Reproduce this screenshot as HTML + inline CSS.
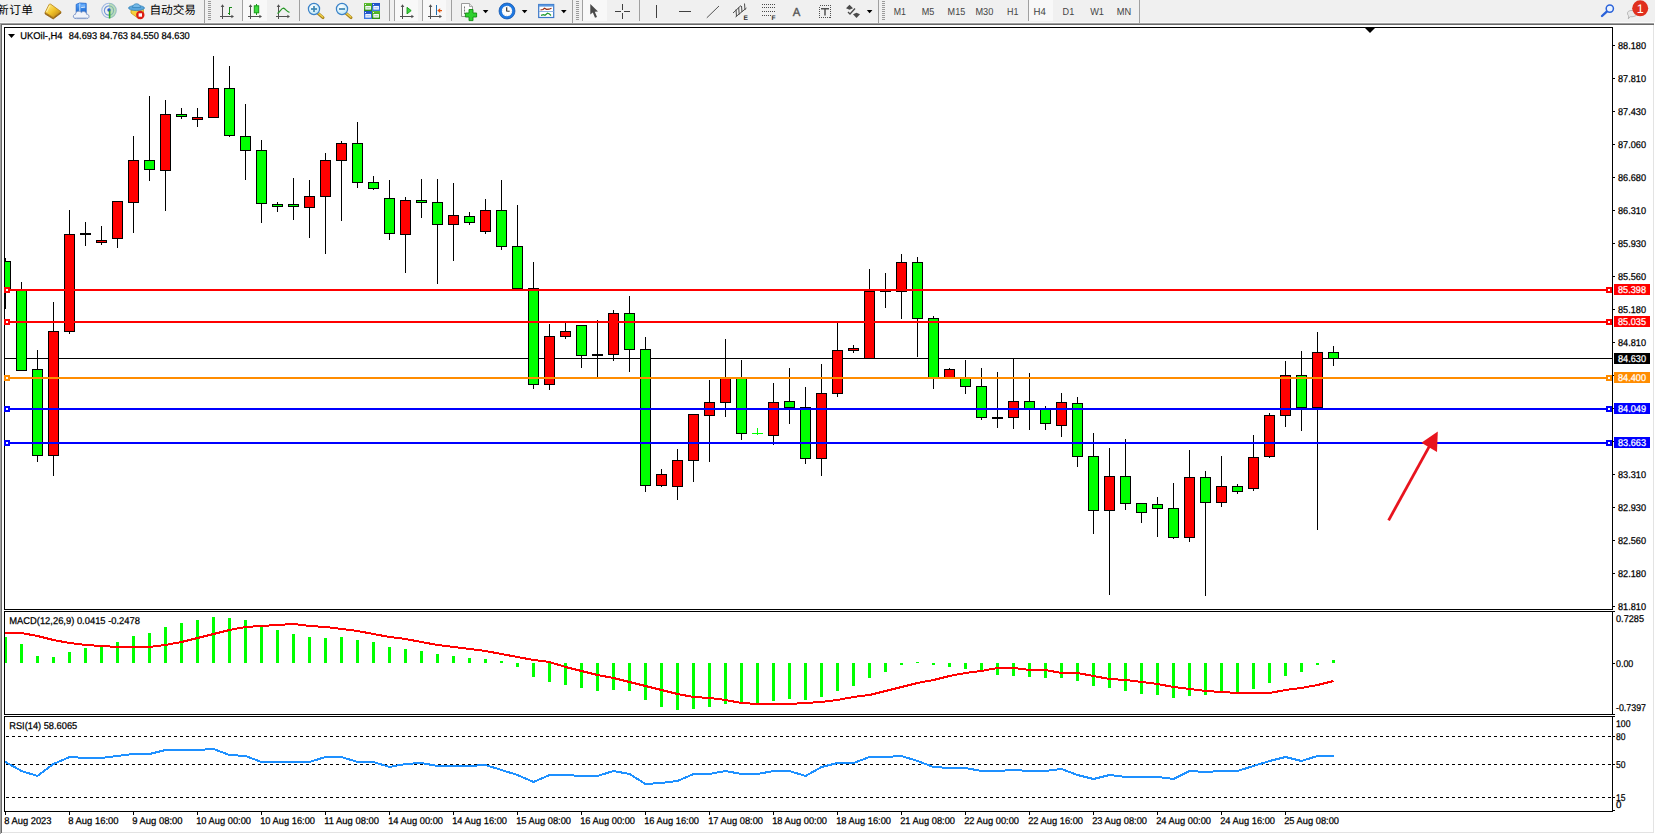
<!DOCTYPE html>
<html><head><meta charset="utf-8"><title>UKOil H4</title>
<style>html,body{margin:0;padding:0;background:#fff}body{width:1655px;height:834px;overflow:hidden;position:relative}</style>
</head><body>
<svg width="1655" height="834" viewBox="0 0 1655 834" font-family="Liberation Sans, sans-serif" text-rendering="geometricPrecision" style="position:absolute;left:0;top:0">
<rect x="0" y="0" width="1655" height="834" fill="#ffffff"/>
<g shape-rendering="crispEdges">
<rect x="0" y="0" width="1655" height="23" fill="#f0f0f0"/>
<rect x="0" y="22" width="1655" height="1" fill="#fafafa"/>
<rect x="0" y="23" width="1655" height="1" fill="#a0a0a0"/>
<rect x="1" y="24" width="1654" height="1" fill="#696969"/>
<rect x="0" y="24" width="1" height="810" fill="#a0a0a0"/>
<rect x="1" y="25" width="1" height="808" fill="#696969"/>
<rect x="1653" y="25" width="1" height="808" fill="#e3e3e3"/>
<rect x="2" y="832" width="1652" height="1" fill="#e3e3e3"/>
<rect x="1654" y="23" width="1" height="811" fill="#ffffff"/>
<rect x="0" y="833" width="1655" height="1" fill="#ffffff"/>
<rect x="204" y="0" width="1" height="23" fill="#a0a0a0"/>
<rect x="299" y="0" width="1" height="21" fill="#a0a0a0"/>
<rect x="389" y="0" width="1" height="21" fill="#a0a0a0"/>
<rect x="451" y="0" width="1" height="21" fill="#a0a0a0"/>
<rect x="572" y="0" width="1" height="23" fill="#a0a0a0"/>
<rect x="639" y="0" width="1" height="21" fill="#a0a0a0"/>
<rect x="878" y="0" width="1" height="23" fill="#a0a0a0"/>
<rect x="1139" y="0" width="1" height="23" fill="#a0a0a0"/>
<rect x="208" y="1" width="3" height="1" fill="#9a9a9a"/>
<rect x="208" y="3" width="3" height="1" fill="#9a9a9a"/>
<rect x="208" y="5" width="3" height="1" fill="#9a9a9a"/>
<rect x="208" y="7" width="3" height="1" fill="#9a9a9a"/>
<rect x="208" y="9" width="3" height="1" fill="#9a9a9a"/>
<rect x="208" y="11" width="3" height="1" fill="#9a9a9a"/>
<rect x="208" y="13" width="3" height="1" fill="#9a9a9a"/>
<rect x="208" y="15" width="3" height="1" fill="#9a9a9a"/>
<rect x="208" y="17" width="3" height="1" fill="#9a9a9a"/>
<rect x="208" y="19" width="3" height="1" fill="#9a9a9a"/>
<rect x="576" y="1" width="3" height="1" fill="#9a9a9a"/>
<rect x="576" y="3" width="3" height="1" fill="#9a9a9a"/>
<rect x="576" y="5" width="3" height="1" fill="#9a9a9a"/>
<rect x="576" y="7" width="3" height="1" fill="#9a9a9a"/>
<rect x="576" y="9" width="3" height="1" fill="#9a9a9a"/>
<rect x="576" y="11" width="3" height="1" fill="#9a9a9a"/>
<rect x="576" y="13" width="3" height="1" fill="#9a9a9a"/>
<rect x="576" y="15" width="3" height="1" fill="#9a9a9a"/>
<rect x="576" y="17" width="3" height="1" fill="#9a9a9a"/>
<rect x="576" y="19" width="3" height="1" fill="#9a9a9a"/>
<rect x="882" y="1" width="3" height="1" fill="#9a9a9a"/>
<rect x="882" y="3" width="3" height="1" fill="#9a9a9a"/>
<rect x="882" y="5" width="3" height="1" fill="#9a9a9a"/>
<rect x="882" y="7" width="3" height="1" fill="#9a9a9a"/>
<rect x="882" y="9" width="3" height="1" fill="#9a9a9a"/>
<rect x="882" y="11" width="3" height="1" fill="#9a9a9a"/>
<rect x="882" y="13" width="3" height="1" fill="#9a9a9a"/>
<rect x="882" y="15" width="3" height="1" fill="#9a9a9a"/>
<rect x="882" y="17" width="3" height="1" fill="#9a9a9a"/>
<rect x="882" y="19" width="3" height="1" fill="#9a9a9a"/>
<rect x="243" y="0" width="24" height="21" fill="#f8f8f8"/>
<rect x="242" y="0" width="1" height="21" fill="#a0a0a0"/>
<rect x="395" y="0" width="23" height="21" fill="#f8f8f8"/>
<rect x="394" y="0" width="1" height="21" fill="#a0a0a0"/>
<rect x="423" y="0" width="23" height="21" fill="#f8f8f8"/>
<rect x="422" y="0" width="1" height="21" fill="#a0a0a0"/>
<rect x="583" y="0" width="24" height="21" fill="#f8f8f8"/>
<rect x="582" y="0" width="1" height="21" fill="#a0a0a0"/>
<rect x="1029" y="0" width="24" height="21" fill="#f8f8f8"/>
<rect x="1028" y="0" width="1" height="21" fill="#a0a0a0"/>
</g>
<g font-family="Liberation Sans, Noto Sans CJK SC, sans-serif" font-size="11.7" fill="#000">
<text x="-3" y="14.2" textLength="36">新订单</text>
<text x="149.5" y="14.2" textLength="46.5">自动交易</text>
</g>
<defs><linearGradient id="gd" x1="0" y1="0" x2="1" y2="1"><stop offset="0" stop-color="#fff3a0"/><stop offset=".5" stop-color="#f2c42a"/><stop offset="1" stop-color="#b57a10"/></linearGradient><linearGradient id="bl" x1="0" y1="0" x2="0" y2="1"><stop offset="0" stop-color="#5aa8ff"/><stop offset="1" stop-color="#1560c8"/></linearGradient><radialGradient id="lens" cx=".4" cy=".35" r=".7"><stop offset="0" stop-color="#ffffff"/><stop offset="1" stop-color="#b8e4f5"/></radialGradient><linearGradient id="gn" x1="0" y1="0" x2="0" y2="1"><stop offset="0" stop-color="#5fbf2f"/><stop offset="1" stop-color="#2e8f12"/></linearGradient><linearGradient id="bu" x1="0" y1="0" x2="0" y2="1"><stop offset="0" stop-color="#1d4fc4"/><stop offset="1" stop-color="#3f7be8"/></linearGradient></defs>
<g><path d="M45.1 12.4 L53.2 17.4 L60.9 11.6 L60.9 13.2 L53.2 19 L45.1 14 Z" fill="#a06a12" stroke="#8a5a0c" stroke-width=".7" stroke-linejoin="round"/><path d="M49 4.6 C49.4 3.9 50.3 3.9 50.9 4.3 L60.9 11.6 L53.2 17.4 L45.1 12.4 Z" fill="url(#gd)" stroke="#b8841a" stroke-width=".8" stroke-linejoin="round"/><path d="M49.6 5.8 L46.6 12" stroke="#fff6b8" stroke-width="1" fill="none" opacity=".8"/></g>
<g><path d="M76.2 4.4 L79.6 3 L86.2 3.4 L86.2 13.5 L79.6 14 L76.2 12.4 Z" fill="url(#bl)" stroke="#1b62c9" stroke-width=".8"/><path d="M79.8 3.4 L79.8 13.6" stroke="#bfe0ff" stroke-width="1.1"/><path d="M81.2 7.4 L85.2 7" stroke="#e8f3ff" stroke-width="1.1"/><path d="M81.2 5.4 L85.2 5.1" stroke="#8cc4ff" stroke-width=".8"/><path d="M76.3 18.6 C72.6 18.8 72.4 14.4 75.6 14.2 C75.4 11.2 79.6 10.2 81.2 12.4 C83.2 10.6 86.6 11.8 86.4 14.2 C89.8 13.8 90 18.8 86.6 18.6 Z" fill="#f1f4fa" stroke="#7f98c8" stroke-width="1"/><path d="M75.4 17.6 H87.4" stroke="#c3d0e6" stroke-width="1" fill="none"/></g>
<g fill="none"><circle cx="109" cy="10.5" r="7.2" stroke="#9fb8e0" stroke-width="1.1"/><circle cx="109" cy="10.5" r="4.6" stroke="#6f96d8" stroke-width="1.2"/><path d="M109 10.5 L109 18.2 A7.6 7.6 0 0 0 116.5 10.5 A7.6 7.6 0 0 0 109 3" fill="#8fce8f" fill-opacity=".55" stroke="none"/><circle cx="109" cy="10" r="1.7" fill="#2a5bd0"/><path d="M109.6 10.5 L109.6 18.5" stroke="#2fa82f" stroke-width="1.6"/></g>
<g><path d="M131 10 L143.5 9.5 L143.5 14 L139 19 L131 13 Z" fill="#f7d23c" stroke="#c99a16" stroke-width=".8"/><ellipse cx="136.5" cy="8" rx="8" ry="2.6" fill="#5aa6dc" stroke="#2f7fb8" stroke-width=".7"/><path d="M132.5 7.5 C132.5 2.5 140.5 2.5 140.5 7.5 Z" fill="#74b8e6" stroke="#2f7fb8" stroke-width=".7"/><circle cx="140.3" cy="15" r="4.2" fill="#dc1e14"/><rect x="138.6" y="13.3" width="3.4" height="3.4" fill="#fff"/></g>
<g stroke="#505050" stroke-width="1" fill="none" shape-rendering="crispEdges"><path d="M222.5 5 V19"/><path d="M220 16.5 H233"/></g><g fill="#505050"><path d="M222.5 4.2 L224.3 7 L220.7 7 Z"/><path d="M234 16.5 L231.4 14.8 L231.4 18.2 Z"/></g>
<path d="M229.5 6.5 V14.5 M229.5 7.5 H231.5 M227.5 13.5 H229.5" stroke="#1a8a1a" stroke-width="1.3" fill="none" shape-rendering="crispEdges"/>
<g stroke="#505050" stroke-width="1" fill="none" shape-rendering="crispEdges"><path d="M250.5 5 V19"/><path d="M248 16.5 H261"/></g><g fill="#505050"><path d="M250.5 4.2 L252.3 7 L248.7 7 Z"/><path d="M262 16.5 L259.4 14.8 L259.4 18.2 Z"/></g>
<path d="M256.5 3.5 V15" stroke="#1a9a1a" stroke-width="1" shape-rendering="crispEdges"/><rect x="254.3" y="5.8" width="4.4" height="7" fill="#3fdc3f" stroke="#1a9a1a" stroke-width="1"/>
<g stroke="#505050" stroke-width="1" fill="none" shape-rendering="crispEdges"><path d="M278.5 5 V19"/><path d="M276 16.5 H289"/></g><g fill="#505050"><path d="M278.5 4.2 L280.3 7 L276.7 7 Z"/><path d="M290 16.5 L287.4 14.8 L287.4 18.2 Z"/></g>
<path d="M277.5 13.5 C280 12 281.5 8 283.5 8.2 C285.5 8.6 286.5 12 289.5 12.3" stroke="#2a9a2a" stroke-width="1.2" fill="none"/>
<path d="M317.8 13.2 L323 17.6" stroke="#a8821a" stroke-width="3" stroke-linecap="round"/><path d="M318 13 L322.8 17" stroke="#f0d24a" stroke-width="1.4" stroke-linecap="round"/>
<circle cx="314" cy="9" r="5.6" fill="url(#lens)" stroke="#3b82c8" stroke-width="1.2"/>
<path d="M311 9 H317" stroke="#3d86b4" stroke-width="1.7"/>
<path d="M314 6 V12" stroke="#3d86b4" stroke-width="1.7"/>
<path d="M345.8 13.2 L351 17.6" stroke="#a8821a" stroke-width="3" stroke-linecap="round"/><path d="M346 13 L350.8 17" stroke="#f0d24a" stroke-width="1.4" stroke-linecap="round"/>
<circle cx="342" cy="9" r="5.6" fill="url(#lens)" stroke="#3b82c8" stroke-width="1.2"/>
<path d="M339 9 H345" stroke="#3d86b4" stroke-width="1.7"/>
<rect x="364" y="3" width="8" height="8" fill="url(#gn)"/><rect x="365.3" y="6" width="5.6" height="3.6" fill="#f4f8ff"/><rect x="366.3" y="7.3" width="3.6" height="1" fill="#9fd48a"/><rect x="365" y="4" width="1" height="1" fill="#e8f0ff"/>
<rect x="372" y="3" width="8" height="8" fill="url(#bu)"/><rect x="373.3" y="6" width="5.6" height="3.6" fill="#f4f8ff"/><rect x="374.3" y="7.3" width="3.6" height="1" fill="#9bb8f0"/><rect x="373" y="4" width="1" height="1" fill="#e8f0ff"/>
<rect x="364" y="11" width="8" height="8" fill="url(#bu)"/><rect x="365.3" y="14" width="5.6" height="3.6" fill="#f4f8ff"/><rect x="366.3" y="15.3" width="3.6" height="1" fill="#9bb8f0"/><rect x="365" y="12" width="1" height="1" fill="#e8f0ff"/>
<rect x="372" y="11" width="8" height="8" fill="url(#gn)"/><rect x="373.3" y="14" width="5.6" height="3.6" fill="#f4f8ff"/><rect x="374.3" y="15.3" width="3.6" height="1" fill="#9fd48a"/><rect x="373" y="12" width="1" height="1" fill="#e8f0ff"/>
<g stroke="#505050" stroke-width="1" fill="none" shape-rendering="crispEdges"><path d="M402.5 5 V19"/><path d="M400 16.5 H413"/></g><g fill="#505050"><path d="M402.5 4.2 L404.3 7 L400.7 7 Z"/><path d="M414 16.5 L411.4 14.8 L411.4 18.2 Z"/></g>
<path d="M407 7.3 L411.2 10.6 L407 13.9 Z" fill="#3fd63f" stroke="#1a9a1a" stroke-width=".9"/>
<g stroke="#505050" stroke-width="1" fill="none" shape-rendering="crispEdges"><path d="M430.5 5 V19"/><path d="M428 16.5 H441"/></g><g fill="#505050"><path d="M430.5 4.2 L432.3 7 L428.7 7 Z"/><path d="M442 16.5 L439.4 14.8 L439.4 18.2 Z"/></g>
<path d="M436.5 5 V15" stroke="#1f6fb0" stroke-width="1.2" shape-rendering="crispEdges"/><path d="M437.3 10.6 L440.2 8.3 L440.2 10 L442 10 L442 11.2 L440.2 11.2 L440.2 12.9 Z" fill="#e2560f"/>
<path d="M461.5 3.5 H469.5 L472.5 6.5 V16.5 H461.5 Z" fill="#fbfbfb" stroke="#9a9a9a" stroke-width="1"/><path d="M469.5 3.5 V6.5 H472.5" fill="#e6e6e6" stroke="#9a9a9a" stroke-width=".8"/><path d="M464.5 6.5 V14" stroke="#777" stroke-width="1" stroke-dasharray="2 1"/>
<path d="M469 9.5 H473 V13 H476.6 V17 H473 V20.6 H469 V17 H465.4 V13 H469 Z" fill="#2fd02f" stroke="#128a12" stroke-width=".9"/>
<path d="M482.8 10 H488.40000000000003 L485.6 13.2 Z" fill="#000"/>
<path d="M521.8 10 H527.4 L524.5999999999999 13.2 Z" fill="#000"/>
<path d="M561 10 H566.6 L563.8 13.2 Z" fill="#000"/>
<path d="M866.8 10 H872.4 L869.5999999999999 13.2 Z" fill="#000"/>
<circle cx="507" cy="11" r="6.6" fill="#fdfdfd" stroke="#1f78e0" stroke-width="2.8"/><circle cx="507" cy="11" r="8" fill="none" stroke="#0d4fa8" stroke-width=".7"/><path d="M506.7 7.2 V11 L509.6 11.2" stroke="#222" stroke-width="1.1" fill="none"/><circle cx="507" cy="11" r="4.6" fill="none" stroke="#b0b0b0" stroke-width=".6" stroke-dasharray=".6 1.8"/>
<rect x="538.7" y="4.5" width="15" height="13" fill="#fff" stroke="#3b78c8" stroke-width="1.2"/><rect x="539" y="4.6" width="14.4" height="2" fill="#5b98e0"/><path d="M539 11.5 H553.5" stroke="#8fb4e4" stroke-width="1"/><path d="M540.5 10 L543 9.5 L544.5 8.3 L546.5 9.3 L549 9.2 L551.5 8.2" stroke="#9a2a10" stroke-width="1.2" fill="none"/><path d="M541 15.4 L543.5 14.6 L545 15.3 L547.5 13.3 L549.5 14 L551 15.5" stroke="#1f9a2f" stroke-width="1.2" fill="none"/>
<path d="M590.3 4 L590.3 14.6 L592.8 12.4 L595 17.8 L597 17 L594.8 11.7 L598 11.5 Z" fill="#4a4a4a"/>
<g stroke="#404040" stroke-width="1" shape-rendering="crispEdges"><path d="M615 11.5 H621 M624 11.5 H630 M622.5 4 V10 M622.5 13 V19"/></g>
<g stroke="#404040" stroke-width="1.1" fill="none"><path d="M656.5 5 V18" shape-rendering="crispEdges"/><path d="M679 11.5 H691" shape-rendering="crispEdges"/><path d="M706.8 17.8 L719 6" stroke-width=".9"/></g>
<g stroke="#4a4a4a" stroke-width="1" fill="none"><path d="M733 13 L741 5.5 M735.5 17 L746.5 8"/><path d="M736 9.5 L736.5 16.5 M738.7 7.5 L739.2 14.5 M741.5 6 L742 12 M744.5 3.5 L745 10"/></g>
<text x="743.6" y="19.6" font-size="6.6" font-weight="bold" fill="#333">E</text>
<g stroke="#4a4a4a" stroke-width="1" stroke-dasharray="1 1" shape-rendering="crispEdges"><path d="M762 4.5 H775 M762 7.5 H775 M762 11.5 H775 M762 15.5 H771"/></g>
<text x="771.6" y="19.6" font-size="6.6" font-weight="bold" fill="#333">F</text>
<text x="792.8" y="16" font-size="11.6" fill="#555" stroke="#555" stroke-width=".35" textLength="7.6" lengthAdjust="spacingAndGlyphs">A</text>
<rect x="819.5" y="5.5" width="11" height="12" fill="none" stroke="#505050" stroke-width="1" stroke-dasharray="1 1" shape-rendering="crispEdges"/><path d="M821 8.7 H829 M825 8.7 V15.6" stroke="#505050" stroke-width="1.5" fill="none"/>
<path d="M846 8.2 L849.5 4.8 L853 8.2 L849.5 9.8 Z" fill="#4a4a4a"/><path d="M853 14.2 L856.5 12.8 L860 14.2 L856.5 18 Z" fill="#4a4a4a"/><path d="M848 12 L850 14 L855 8.5" stroke="#4a4a4a" stroke-width="1.3" fill="none"/>
<text x="893.8" y="14.6" font-size="10.2" fill="#444" textLength="12.2" lengthAdjust="spacingAndGlyphs">M1</text>
<text x="921.8" y="14.6" font-size="10.2" fill="#444" textLength="12.6" lengthAdjust="spacingAndGlyphs">M5</text>
<text x="947.6" y="14.6" font-size="10.2" fill="#444" textLength="17.6" lengthAdjust="spacingAndGlyphs">M15</text>
<text x="975.4" y="14.6" font-size="10.2" fill="#444" textLength="17.9" lengthAdjust="spacingAndGlyphs">M30</text>
<text x="1007" y="14.6" font-size="10.2" fill="#444" textLength="11.4" lengthAdjust="spacingAndGlyphs">H1</text>
<text x="1033.6" y="14.6" font-size="10.2" fill="#444" textLength="12.3" lengthAdjust="spacingAndGlyphs">H4</text>
<text x="1062.6" y="14.6" font-size="10.2" fill="#444" textLength="11.6" lengthAdjust="spacingAndGlyphs">D1</text>
<text x="1090.2" y="14.6" font-size="10.2" fill="#444" textLength="13.8" lengthAdjust="spacingAndGlyphs">W1</text>
<text x="1116.8" y="14.6" font-size="10.2" fill="#444" textLength="14.4" lengthAdjust="spacingAndGlyphs">MN</text>
<path d="M1602 16 L1607 11.3" stroke="#2b62d9" stroke-width="2.4" stroke-linecap="round"/><circle cx="1609.8" cy="8.6" r="3.6" fill="#eaf3ff" stroke="#2b62d9" stroke-width="1.5"/>
<path d="M1627.5 13 C1627.5 9.5 1637 9.5 1637 13.5 C1637 16.5 1632 17 1630.5 16.6 L1628.3 18.8 L1628.8 16 C1627.8 15.3 1627.5 14.3 1627.5 13 Z" fill="#e8e8e8" stroke="#aaa" stroke-width=".8"/>
<circle cx="1640.2" cy="8.3" r="8" fill="#e0301e"/><text x="1640.3" y="12.8" font-size="12.5" fill="#fff" text-anchor="middle">1</text>
<g shape-rendering="crispEdges">
<rect x="4" y="27" width="1609" height="1" fill="#000"/>
<rect x="4" y="27" width="1" height="583" fill="#000"/>
<rect x="4" y="609" width="1609" height="1" fill="#000"/>
<rect x="1612" y="27" width="1" height="583" fill="#000"/>
<rect x="4" y="611" width="1609" height="1" fill="#000"/>
<rect x="4" y="611" width="1" height="104" fill="#000"/>
<rect x="4" y="714" width="1609" height="1" fill="#000"/>
<rect x="1612" y="611" width="1" height="104" fill="#000"/>
<rect x="4" y="716" width="1609" height="1" fill="#000"/>
<rect x="4" y="716" width="1" height="96" fill="#000"/>
<rect x="4" y="811" width="1609" height="1" fill="#000"/>
<rect x="1612" y="716" width="1" height="96" fill="#000"/>
<rect x="5" y="358" width="1607" height="1" fill="#000"/>
<rect x="5" y="258" width="1" height="51" fill="#000"/>
<rect x="0" y="261" width="11" height="30" fill="#000"/>
<rect x="1" y="262" width="9" height="28" fill="#00ff00"/>
<rect x="21" y="282" width="1" height="89" fill="#000"/>
<rect x="16" y="290" width="11" height="81" fill="#000"/>
<rect x="17" y="291" width="9" height="79" fill="#00ff00"/>
<rect x="37" y="350" width="1" height="112" fill="#000"/>
<rect x="32" y="369" width="11" height="87" fill="#000"/>
<rect x="33" y="370" width="9" height="85" fill="#00ff00"/>
<rect x="53" y="302" width="1" height="174" fill="#000"/>
<rect x="48" y="331" width="11" height="125" fill="#000"/>
<rect x="49" y="332" width="9" height="123" fill="#ff0000"/>
<rect x="69" y="210" width="1" height="124" fill="#000"/>
<rect x="64" y="234" width="11" height="98" fill="#000"/>
<rect x="65" y="235" width="9" height="96" fill="#ff0000"/>
<rect x="85" y="222" width="1" height="24" fill="#000"/>
<rect x="80" y="233" width="11" height="2" fill="#000"/>
<rect x="101" y="226" width="1" height="19" fill="#000"/>
<rect x="96" y="240" width="11" height="3" fill="#000"/>
<rect x="97" y="241" width="9" height="1" fill="#ff0000"/>
<rect x="117" y="201" width="1" height="47" fill="#000"/>
<rect x="112" y="201" width="11" height="38" fill="#000"/>
<rect x="113" y="202" width="9" height="36" fill="#ff0000"/>
<rect x="133" y="136" width="1" height="97" fill="#000"/>
<rect x="128" y="160" width="11" height="43" fill="#000"/>
<rect x="129" y="161" width="9" height="41" fill="#ff0000"/>
<rect x="149" y="96" width="1" height="85" fill="#000"/>
<rect x="144" y="160" width="11" height="10" fill="#000"/>
<rect x="145" y="161" width="9" height="8" fill="#00ff00"/>
<rect x="165" y="100" width="1" height="111" fill="#000"/>
<rect x="160" y="114" width="11" height="57" fill="#000"/>
<rect x="161" y="115" width="9" height="55" fill="#ff0000"/>
<rect x="181" y="108" width="1" height="11" fill="#000"/>
<rect x="176" y="114" width="11" height="3" fill="#000"/>
<rect x="177" y="115" width="9" height="1" fill="#00ff00"/>
<rect x="197" y="108" width="1" height="19" fill="#000"/>
<rect x="192" y="117" width="11" height="3" fill="#000"/>
<rect x="193" y="118" width="9" height="1" fill="#ff0000"/>
<rect x="213" y="56" width="1" height="62" fill="#000"/>
<rect x="208" y="88" width="11" height="30" fill="#000"/>
<rect x="209" y="89" width="9" height="28" fill="#ff0000"/>
<rect x="229" y="66" width="1" height="71" fill="#000"/>
<rect x="224" y="88" width="11" height="48" fill="#000"/>
<rect x="225" y="89" width="9" height="46" fill="#00ff00"/>
<rect x="245" y="104" width="1" height="76" fill="#000"/>
<rect x="240" y="136" width="11" height="15" fill="#000"/>
<rect x="241" y="137" width="9" height="13" fill="#00ff00"/>
<rect x="261" y="140" width="1" height="83" fill="#000"/>
<rect x="256" y="150" width="11" height="54" fill="#000"/>
<rect x="257" y="151" width="9" height="52" fill="#00ff00"/>
<rect x="277" y="202" width="1" height="10" fill="#000"/>
<rect x="272" y="204" width="11" height="3" fill="#000"/>
<rect x="273" y="205" width="9" height="1" fill="#00ff00"/>
<rect x="293" y="178" width="1" height="42" fill="#000"/>
<rect x="288" y="204" width="11" height="3" fill="#000"/>
<rect x="289" y="205" width="9" height="1" fill="#00ff00"/>
<rect x="309" y="180" width="1" height="58" fill="#000"/>
<rect x="304" y="196" width="11" height="12" fill="#000"/>
<rect x="305" y="197" width="9" height="10" fill="#ff0000"/>
<rect x="325" y="153" width="1" height="101" fill="#000"/>
<rect x="320" y="160" width="11" height="37" fill="#000"/>
<rect x="321" y="161" width="9" height="35" fill="#ff0000"/>
<rect x="341" y="141" width="1" height="80" fill="#000"/>
<rect x="336" y="143" width="11" height="18" fill="#000"/>
<rect x="337" y="144" width="9" height="16" fill="#ff0000"/>
<rect x="357" y="122" width="1" height="66" fill="#000"/>
<rect x="352" y="143" width="11" height="40" fill="#000"/>
<rect x="353" y="144" width="9" height="38" fill="#00ff00"/>
<rect x="373" y="176" width="1" height="14" fill="#000"/>
<rect x="368" y="182" width="11" height="7" fill="#000"/>
<rect x="369" y="183" width="9" height="5" fill="#00ff00"/>
<rect x="389" y="180" width="1" height="60" fill="#000"/>
<rect x="384" y="198" width="11" height="36" fill="#000"/>
<rect x="385" y="199" width="9" height="34" fill="#00ff00"/>
<rect x="405" y="197" width="1" height="76" fill="#000"/>
<rect x="400" y="200" width="11" height="35" fill="#000"/>
<rect x="401" y="201" width="9" height="33" fill="#ff0000"/>
<rect x="421" y="179" width="1" height="39" fill="#000"/>
<rect x="416" y="200" width="11" height="3" fill="#000"/>
<rect x="417" y="201" width="9" height="1" fill="#00ff00"/>
<rect x="437" y="179" width="1" height="105" fill="#000"/>
<rect x="432" y="202" width="11" height="23" fill="#000"/>
<rect x="433" y="203" width="9" height="21" fill="#00ff00"/>
<rect x="453" y="183" width="1" height="78" fill="#000"/>
<rect x="448" y="215" width="11" height="10" fill="#000"/>
<rect x="449" y="216" width="9" height="8" fill="#ff0000"/>
<rect x="469" y="212" width="1" height="13" fill="#000"/>
<rect x="464" y="216" width="11" height="7" fill="#000"/>
<rect x="465" y="217" width="9" height="5" fill="#00ff00"/>
<rect x="485" y="199" width="1" height="35" fill="#000"/>
<rect x="480" y="210" width="11" height="22" fill="#000"/>
<rect x="481" y="211" width="9" height="20" fill="#ff0000"/>
<rect x="501" y="180" width="1" height="70" fill="#000"/>
<rect x="496" y="210" width="11" height="37" fill="#000"/>
<rect x="497" y="211" width="9" height="35" fill="#00ff00"/>
<rect x="517" y="205" width="1" height="84" fill="#000"/>
<rect x="512" y="246" width="11" height="43" fill="#000"/>
<rect x="513" y="247" width="9" height="41" fill="#00ff00"/>
<rect x="533" y="262" width="1" height="127" fill="#000"/>
<rect x="528" y="288" width="11" height="97" fill="#000"/>
<rect x="529" y="289" width="9" height="95" fill="#00ff00"/>
<rect x="549" y="324" width="1" height="66" fill="#000"/>
<rect x="544" y="336" width="11" height="49" fill="#000"/>
<rect x="545" y="337" width="9" height="47" fill="#ff0000"/>
<rect x="565" y="323" width="1" height="16" fill="#000"/>
<rect x="560" y="331" width="11" height="6" fill="#000"/>
<rect x="561" y="332" width="9" height="4" fill="#ff0000"/>
<rect x="581" y="325" width="1" height="43" fill="#000"/>
<rect x="576" y="325" width="11" height="31" fill="#000"/>
<rect x="577" y="326" width="9" height="29" fill="#00ff00"/>
<rect x="597" y="320" width="1" height="57" fill="#000"/>
<rect x="592" y="354" width="11" height="2" fill="#000"/>
<rect x="613" y="310" width="1" height="51" fill="#000"/>
<rect x="608" y="313" width="11" height="42" fill="#000"/>
<rect x="609" y="314" width="9" height="40" fill="#ff0000"/>
<rect x="629" y="296" width="1" height="76" fill="#000"/>
<rect x="624" y="313" width="11" height="37" fill="#000"/>
<rect x="625" y="314" width="9" height="35" fill="#00ff00"/>
<rect x="645" y="337" width="1" height="155" fill="#000"/>
<rect x="640" y="349" width="11" height="137" fill="#000"/>
<rect x="641" y="350" width="9" height="135" fill="#00ff00"/>
<rect x="661" y="469" width="1" height="18" fill="#000"/>
<rect x="656" y="474" width="11" height="12" fill="#000"/>
<rect x="657" y="475" width="9" height="10" fill="#ff0000"/>
<rect x="677" y="449" width="1" height="51" fill="#000"/>
<rect x="672" y="460" width="11" height="27" fill="#000"/>
<rect x="673" y="461" width="9" height="25" fill="#ff0000"/>
<rect x="693" y="414" width="1" height="68" fill="#000"/>
<rect x="688" y="414" width="11" height="47" fill="#000"/>
<rect x="689" y="415" width="9" height="45" fill="#ff0000"/>
<rect x="709" y="380" width="1" height="82" fill="#000"/>
<rect x="704" y="402" width="11" height="14" fill="#000"/>
<rect x="705" y="403" width="9" height="12" fill="#ff0000"/>
<rect x="725" y="339" width="1" height="78" fill="#000"/>
<rect x="720" y="377" width="11" height="26" fill="#000"/>
<rect x="721" y="378" width="9" height="24" fill="#ff0000"/>
<rect x="741" y="360" width="1" height="80" fill="#000"/>
<rect x="736" y="377" width="11" height="57" fill="#000"/>
<rect x="737" y="378" width="9" height="55" fill="#00ff00"/>
<rect x="752" y="433" width="11" height="1" fill="#00ff00"/>
<rect x="757" y="428" width="1" height="7" fill="#00ff00"/>
<rect x="773" y="383" width="1" height="62" fill="#000"/>
<rect x="768" y="402" width="11" height="34" fill="#000"/>
<rect x="769" y="403" width="9" height="32" fill="#ff0000"/>
<rect x="789" y="368" width="1" height="56" fill="#000"/>
<rect x="784" y="401" width="11" height="7" fill="#000"/>
<rect x="785" y="402" width="9" height="5" fill="#00ff00"/>
<rect x="805" y="387" width="1" height="77" fill="#000"/>
<rect x="800" y="407" width="11" height="52" fill="#000"/>
<rect x="801" y="408" width="9" height="50" fill="#00ff00"/>
<rect x="821" y="364" width="1" height="112" fill="#000"/>
<rect x="816" y="393" width="11" height="66" fill="#000"/>
<rect x="817" y="394" width="9" height="64" fill="#ff0000"/>
<rect x="837" y="323" width="1" height="74" fill="#000"/>
<rect x="832" y="350" width="11" height="44" fill="#000"/>
<rect x="833" y="351" width="9" height="42" fill="#ff0000"/>
<rect x="853" y="345" width="1" height="8" fill="#000"/>
<rect x="848" y="348" width="11" height="3" fill="#000"/>
<rect x="849" y="349" width="9" height="1" fill="#ff0000"/>
<rect x="869" y="269" width="1" height="89" fill="#000"/>
<rect x="864" y="291" width="11" height="68" fill="#000"/>
<rect x="865" y="292" width="9" height="66" fill="#ff0000"/>
<rect x="885" y="273" width="1" height="35" fill="#000"/>
<rect x="880" y="290" width="11" height="2" fill="#000"/>
<rect x="901" y="254" width="1" height="65" fill="#000"/>
<rect x="896" y="262" width="11" height="30" fill="#000"/>
<rect x="897" y="263" width="9" height="28" fill="#ff0000"/>
<rect x="917" y="257" width="1" height="100" fill="#000"/>
<rect x="912" y="262" width="11" height="57" fill="#000"/>
<rect x="913" y="263" width="9" height="55" fill="#00ff00"/>
<rect x="933" y="316" width="1" height="73" fill="#000"/>
<rect x="928" y="318" width="11" height="61" fill="#000"/>
<rect x="929" y="319" width="9" height="59" fill="#00ff00"/>
<rect x="949" y="368" width="1" height="10" fill="#000"/>
<rect x="944" y="369" width="11" height="10" fill="#000"/>
<rect x="945" y="370" width="9" height="8" fill="#ff0000"/>
<rect x="965" y="360" width="1" height="34" fill="#000"/>
<rect x="960" y="378" width="11" height="9" fill="#000"/>
<rect x="961" y="379" width="9" height="7" fill="#00ff00"/>
<rect x="981" y="368" width="1" height="52" fill="#000"/>
<rect x="976" y="386" width="11" height="32" fill="#000"/>
<rect x="977" y="387" width="9" height="30" fill="#00ff00"/>
<rect x="997" y="372" width="1" height="56" fill="#000"/>
<rect x="992" y="417" width="11" height="2" fill="#000"/>
<rect x="1013" y="358" width="1" height="71" fill="#000"/>
<rect x="1008" y="401" width="11" height="17" fill="#000"/>
<rect x="1009" y="402" width="9" height="15" fill="#ff0000"/>
<rect x="1029" y="373" width="1" height="57" fill="#000"/>
<rect x="1024" y="401" width="11" height="8" fill="#000"/>
<rect x="1025" y="402" width="9" height="6" fill="#00ff00"/>
<rect x="1045" y="406" width="1" height="24" fill="#000"/>
<rect x="1040" y="409" width="11" height="15" fill="#000"/>
<rect x="1041" y="410" width="9" height="13" fill="#00ff00"/>
<rect x="1061" y="393" width="1" height="44" fill="#000"/>
<rect x="1056" y="402" width="11" height="24" fill="#000"/>
<rect x="1057" y="403" width="9" height="22" fill="#ff0000"/>
<rect x="1077" y="397" width="1" height="70" fill="#000"/>
<rect x="1072" y="403" width="11" height="54" fill="#000"/>
<rect x="1073" y="404" width="9" height="52" fill="#00ff00"/>
<rect x="1093" y="433" width="1" height="101" fill="#000"/>
<rect x="1088" y="456" width="11" height="55" fill="#000"/>
<rect x="1089" y="457" width="9" height="53" fill="#00ff00"/>
<rect x="1109" y="448" width="1" height="147" fill="#000"/>
<rect x="1104" y="476" width="11" height="35" fill="#000"/>
<rect x="1105" y="477" width="9" height="33" fill="#ff0000"/>
<rect x="1125" y="439" width="1" height="71" fill="#000"/>
<rect x="1120" y="476" width="11" height="28" fill="#000"/>
<rect x="1121" y="477" width="9" height="26" fill="#00ff00"/>
<rect x="1141" y="503" width="1" height="20" fill="#000"/>
<rect x="1136" y="503" width="11" height="10" fill="#000"/>
<rect x="1137" y="504" width="9" height="8" fill="#00ff00"/>
<rect x="1157" y="497" width="1" height="40" fill="#000"/>
<rect x="1152" y="504" width="11" height="5" fill="#000"/>
<rect x="1153" y="505" width="9" height="3" fill="#00ff00"/>
<rect x="1173" y="483" width="1" height="56" fill="#000"/>
<rect x="1168" y="508" width="11" height="30" fill="#000"/>
<rect x="1169" y="509" width="9" height="28" fill="#00ff00"/>
<rect x="1189" y="450" width="1" height="92" fill="#000"/>
<rect x="1184" y="477" width="11" height="61" fill="#000"/>
<rect x="1185" y="478" width="9" height="59" fill="#ff0000"/>
<rect x="1205" y="471" width="1" height="125" fill="#000"/>
<rect x="1200" y="477" width="11" height="26" fill="#000"/>
<rect x="1201" y="478" width="9" height="24" fill="#00ff00"/>
<rect x="1221" y="456" width="1" height="51" fill="#000"/>
<rect x="1216" y="486" width="11" height="17" fill="#000"/>
<rect x="1217" y="487" width="9" height="15" fill="#ff0000"/>
<rect x="1237" y="484" width="1" height="10" fill="#000"/>
<rect x="1232" y="486" width="11" height="6" fill="#000"/>
<rect x="1233" y="487" width="9" height="4" fill="#00ff00"/>
<rect x="1253" y="435" width="1" height="56" fill="#000"/>
<rect x="1248" y="457" width="11" height="32" fill="#000"/>
<rect x="1249" y="458" width="9" height="30" fill="#ff0000"/>
<rect x="1269" y="413" width="1" height="45" fill="#000"/>
<rect x="1264" y="415" width="11" height="42" fill="#000"/>
<rect x="1265" y="416" width="9" height="40" fill="#ff0000"/>
<rect x="1285" y="361" width="1" height="66" fill="#000"/>
<rect x="1280" y="375" width="11" height="41" fill="#000"/>
<rect x="1281" y="376" width="9" height="39" fill="#ff0000"/>
<rect x="1301" y="351" width="1" height="80" fill="#000"/>
<rect x="1296" y="375" width="11" height="33" fill="#000"/>
<rect x="1297" y="376" width="9" height="31" fill="#00ff00"/>
<rect x="1317" y="332" width="1" height="198" fill="#000"/>
<rect x="1312" y="352" width="11" height="56" fill="#000"/>
<rect x="1313" y="353" width="9" height="54" fill="#ff0000"/>
<rect x="1333" y="346" width="1" height="20" fill="#000"/>
<rect x="1328" y="352" width="11" height="7" fill="#000"/>
<rect x="1329" y="353" width="9" height="5" fill="#00ff00"/>
<rect x="2" y="27" width="2" height="784" fill="#fff"/>
<rect x="0" y="24" width="1" height="810" fill="#a0a0a0"/>
<rect x="1" y="25" width="1" height="808" fill="#696969"/>
<rect x="4" y="27" width="1" height="583" fill="#000"/>
<polygon points="1365,28 1375,28 1370,33" fill="#000" shape-rendering="geometricPrecision"/>
<rect x="5" y="289" width="1607" height="2" fill="#ff0000"/>
<rect x="4" y="287" width="6" height="6" fill="#ff0000"/>
<rect x="6" y="289" width="2" height="2" fill="#fff"/>
<rect x="1606" y="287" width="6" height="6" fill="#ff0000"/>
<rect x="1608" y="289" width="2" height="2" fill="#fff"/>
<rect x="5" y="321" width="1607" height="2" fill="#ff0000"/>
<rect x="4" y="319" width="6" height="6" fill="#ff0000"/>
<rect x="6" y="321" width="2" height="2" fill="#fff"/>
<rect x="1606" y="319" width="6" height="6" fill="#ff0000"/>
<rect x="1608" y="321" width="2" height="2" fill="#fff"/>
<rect x="5" y="377" width="1607" height="2" fill="#ff8c00"/>
<rect x="4" y="375" width="6" height="6" fill="#ff8c00"/>
<rect x="6" y="377" width="2" height="2" fill="#fff"/>
<rect x="1606" y="375" width="6" height="6" fill="#ff8c00"/>
<rect x="1608" y="377" width="2" height="2" fill="#fff"/>
<rect x="5" y="408" width="1607" height="2" fill="#0000ff"/>
<rect x="4" y="406" width="6" height="6" fill="#0000ff"/>
<rect x="6" y="408" width="2" height="2" fill="#fff"/>
<rect x="1606" y="406" width="6" height="6" fill="#0000ff"/>
<rect x="1608" y="408" width="2" height="2" fill="#fff"/>
<rect x="5" y="442" width="1607" height="2" fill="#0000ff"/>
<rect x="4" y="440" width="6" height="6" fill="#0000ff"/>
<rect x="6" y="442" width="2" height="2" fill="#fff"/>
<rect x="1606" y="440" width="6" height="6" fill="#0000ff"/>
<rect x="1608" y="442" width="2" height="2" fill="#fff"/>
<rect x="1613" y="45" width="2" height="1" fill="#000"/>
<rect x="1613" y="78" width="2" height="1" fill="#000"/>
<rect x="1613" y="111" width="2" height="1" fill="#000"/>
<rect x="1613" y="144" width="2" height="1" fill="#000"/>
<rect x="1613" y="177" width="2" height="1" fill="#000"/>
<rect x="1613" y="210" width="2" height="1" fill="#000"/>
<rect x="1613" y="243" width="2" height="1" fill="#000"/>
<rect x="1613" y="276" width="2" height="1" fill="#000"/>
<rect x="1613" y="309" width="2" height="1" fill="#000"/>
<rect x="1613" y="342" width="2" height="1" fill="#000"/>
<rect x="1613" y="375" width="2" height="1" fill="#000"/>
<rect x="1613" y="408" width="2" height="1" fill="#000"/>
<rect x="1613" y="441" width="2" height="1" fill="#000"/>
<rect x="1613" y="474" width="2" height="1" fill="#000"/>
<rect x="1613" y="507" width="2" height="1" fill="#000"/>
<rect x="1613" y="540" width="2" height="1" fill="#000"/>
<rect x="1613" y="573" width="2" height="1" fill="#000"/>
<rect x="1613" y="606" width="2" height="1" fill="#000"/>
<rect x="1613" y="663" width="2" height="1" fill="#000"/>
<rect x="1613" y="611" width="2" height="1" fill="#000"/>
<rect x="1613" y="714" width="2" height="1" fill="#000"/>
<rect x="1613" y="716" width="2" height="1" fill="#000"/>
<rect x="1613" y="736" width="2" height="1" fill="#000"/>
<rect x="1613" y="764" width="2" height="1" fill="#000"/>
<rect x="1613" y="797" width="2" height="1" fill="#000"/>
<rect x="1613" y="810" width="2" height="1" fill="#000"/>
<rect x="4" y="637" width="3" height="26" fill="#00ff00"/>
<rect x="20" y="644" width="3" height="19" fill="#00ff00"/>
<rect x="36" y="656" width="3" height="7" fill="#00ff00"/>
<rect x="52" y="657" width="3" height="6" fill="#00ff00"/>
<rect x="68" y="652" width="3" height="11" fill="#00ff00"/>
<rect x="84" y="648" width="3" height="15" fill="#00ff00"/>
<rect x="100" y="646" width="3" height="17" fill="#00ff00"/>
<rect x="116" y="642" width="3" height="21" fill="#00ff00"/>
<rect x="132" y="636" width="3" height="27" fill="#00ff00"/>
<rect x="148" y="633" width="3" height="30" fill="#00ff00"/>
<rect x="164" y="627" width="3" height="36" fill="#00ff00"/>
<rect x="180" y="623" width="3" height="40" fill="#00ff00"/>
<rect x="196" y="620" width="3" height="43" fill="#00ff00"/>
<rect x="212" y="617" width="3" height="46" fill="#00ff00"/>
<rect x="228" y="618" width="3" height="45" fill="#00ff00"/>
<rect x="244" y="620" width="3" height="43" fill="#00ff00"/>
<rect x="260" y="626" width="3" height="37" fill="#00ff00"/>
<rect x="276" y="630" width="3" height="33" fill="#00ff00"/>
<rect x="292" y="634" width="3" height="29" fill="#00ff00"/>
<rect x="308" y="637" width="3" height="26" fill="#00ff00"/>
<rect x="324" y="638" width="3" height="25" fill="#00ff00"/>
<rect x="340" y="637" width="3" height="26" fill="#00ff00"/>
<rect x="356" y="640" width="3" height="23" fill="#00ff00"/>
<rect x="372" y="642" width="3" height="21" fill="#00ff00"/>
<rect x="388" y="647" width="3" height="16" fill="#00ff00"/>
<rect x="404" y="649" width="3" height="14" fill="#00ff00"/>
<rect x="420" y="651" width="3" height="12" fill="#00ff00"/>
<rect x="436" y="654" width="3" height="9" fill="#00ff00"/>
<rect x="452" y="656" width="3" height="7" fill="#00ff00"/>
<rect x="468" y="658" width="3" height="5" fill="#00ff00"/>
<rect x="484" y="659" width="3" height="4" fill="#00ff00"/>
<rect x="500" y="661" width="3" height="2" fill="#00ff00"/>
<rect x="516" y="663" width="3" height="4" fill="#00ff00"/>
<rect x="532" y="663" width="3" height="14" fill="#00ff00"/>
<rect x="548" y="663" width="3" height="19" fill="#00ff00"/>
<rect x="564" y="663" width="3" height="22" fill="#00ff00"/>
<rect x="580" y="663" width="3" height="25" fill="#00ff00"/>
<rect x="596" y="663" width="3" height="28" fill="#00ff00"/>
<rect x="612" y="663" width="3" height="27" fill="#00ff00"/>
<rect x="628" y="663" width="3" height="28" fill="#00ff00"/>
<rect x="644" y="663" width="3" height="37" fill="#00ff00"/>
<rect x="660" y="663" width="3" height="44" fill="#00ff00"/>
<rect x="676" y="663" width="3" height="47" fill="#00ff00"/>
<rect x="692" y="663" width="3" height="46" fill="#00ff00"/>
<rect x="708" y="663" width="3" height="44" fill="#00ff00"/>
<rect x="724" y="663" width="3" height="41" fill="#00ff00"/>
<rect x="740" y="663" width="3" height="40" fill="#00ff00"/>
<rect x="756" y="663" width="3" height="40" fill="#00ff00"/>
<rect x="772" y="663" width="3" height="38" fill="#00ff00"/>
<rect x="788" y="663" width="3" height="36" fill="#00ff00"/>
<rect x="804" y="663" width="3" height="37" fill="#00ff00"/>
<rect x="820" y="663" width="3" height="34" fill="#00ff00"/>
<rect x="836" y="663" width="3" height="28" fill="#00ff00"/>
<rect x="852" y="663" width="3" height="23" fill="#00ff00"/>
<rect x="868" y="663" width="3" height="15" fill="#00ff00"/>
<rect x="884" y="663" width="3" height="9" fill="#00ff00"/>
<rect x="900" y="663" width="3" height="2" fill="#00ff00"/>
<rect x="916" y="662" width="3" height="1" fill="#00ff00"/>
<rect x="932" y="663" width="3" height="2" fill="#00ff00"/>
<rect x="948" y="663" width="3" height="4" fill="#00ff00"/>
<rect x="964" y="663" width="3" height="6" fill="#00ff00"/>
<rect x="980" y="663" width="3" height="8" fill="#00ff00"/>
<rect x="996" y="663" width="3" height="12" fill="#00ff00"/>
<rect x="1012" y="663" width="3" height="13" fill="#00ff00"/>
<rect x="1028" y="663" width="3" height="14" fill="#00ff00"/>
<rect x="1044" y="663" width="3" height="15" fill="#00ff00"/>
<rect x="1060" y="663" width="3" height="15" fill="#00ff00"/>
<rect x="1076" y="663" width="3" height="18" fill="#00ff00"/>
<rect x="1092" y="663" width="3" height="23" fill="#00ff00"/>
<rect x="1108" y="663" width="3" height="25" fill="#00ff00"/>
<rect x="1124" y="663" width="3" height="28" fill="#00ff00"/>
<rect x="1140" y="663" width="3" height="31" fill="#00ff00"/>
<rect x="1156" y="663" width="3" height="32" fill="#00ff00"/>
<rect x="1172" y="663" width="3" height="35" fill="#00ff00"/>
<rect x="1188" y="663" width="3" height="33" fill="#00ff00"/>
<rect x="1204" y="663" width="3" height="32" fill="#00ff00"/>
<rect x="1220" y="663" width="3" height="29" fill="#00ff00"/>
<rect x="1236" y="663" width="3" height="29" fill="#00ff00"/>
<rect x="1252" y="663" width="3" height="26" fill="#00ff00"/>
<rect x="1268" y="663" width="3" height="20" fill="#00ff00"/>
<rect x="1284" y="663" width="3" height="13" fill="#00ff00"/>
<rect x="1300" y="663" width="3" height="9" fill="#00ff00"/>
<rect x="1316" y="663" width="3" height="2" fill="#00ff00"/>
<rect x="1332" y="660" width="3" height="3" fill="#00ff00"/>
<rect x="4" y="611" width="1" height="104" fill="#000"/>
<path d="M6 736.5H1612" stroke="#000" stroke-width="1" stroke-dasharray="3 3" fill="none"/>
<path d="M6 764.5H1612" stroke="#000" stroke-width="1" stroke-dasharray="3 3" fill="none"/>
<path d="M6 797.5H1612" stroke="#000" stroke-width="1" stroke-dasharray="3 3" fill="none"/>
<rect x="5" y="812" width="1" height="3" fill="#000"/>
<rect x="69" y="812" width="1" height="3" fill="#000"/>
<rect x="133" y="812" width="1" height="3" fill="#000"/>
<rect x="197" y="812" width="1" height="3" fill="#000"/>
<rect x="261" y="812" width="1" height="3" fill="#000"/>
<rect x="325" y="812" width="1" height="3" fill="#000"/>
<rect x="389" y="812" width="1" height="3" fill="#000"/>
<rect x="453" y="812" width="1" height="3" fill="#000"/>
<rect x="517" y="812" width="1" height="3" fill="#000"/>
<rect x="581" y="812" width="1" height="3" fill="#000"/>
<rect x="645" y="812" width="1" height="3" fill="#000"/>
<rect x="709" y="812" width="1" height="3" fill="#000"/>
<rect x="773" y="812" width="1" height="3" fill="#000"/>
<rect x="837" y="812" width="1" height="3" fill="#000"/>
<rect x="901" y="812" width="1" height="3" fill="#000"/>
<rect x="965" y="812" width="1" height="3" fill="#000"/>
<rect x="1029" y="812" width="1" height="3" fill="#000"/>
<rect x="1093" y="812" width="1" height="3" fill="#000"/>
<rect x="1157" y="812" width="1" height="3" fill="#000"/>
<rect x="1221" y="812" width="1" height="3" fill="#000"/>
<rect x="1285" y="812" width="1" height="3" fill="#000"/>
</g>
<clipPath id="cm"><rect x="5" y="612" width="1607" height="102"/></clipPath><clipPath id="cr"><rect x="5" y="717" width="1607" height="94"/></clipPath>
<polyline points="5,633 5.5,633 21.5,633 37.5,636 53.5,640 69.5,643 85.5,645 101.5,646 117.5,647 133.5,647 149.5,647 165.5,645 181.5,642 197.5,638 213.5,634 229.5,630 245.5,627 261.5,626 277.5,625 293.5,624 309.5,626 325.5,627 341.5,629 357.5,631 373.5,634 389.5,637 405.5,639 421.5,642 437.5,645 453.5,647 469.5,649 485.5,651 501.5,654 517.5,657 533.5,660 549.5,662 565.5,667 581.5,671 597.5,675 613.5,678 629.5,682 645.5,686 661.5,690 677.5,694 693.5,697 709.5,698 725.5,700 741.5,703 757.5,704 773.5,704 789.5,704 805.5,703 821.5,702 837.5,700 853.5,697 869.5,695 885.5,691 901.5,687 917.5,683 933.5,680 949.5,676 965.5,673 981.5,671 997.5,668 1013.5,668 1029.5,670 1045.5,670 1061.5,673 1077.5,673 1093.5,676 1109.5,679 1125.5,680 1141.5,682 1157.5,684 1173.5,687 1189.5,689 1205.5,691 1221.5,692 1237.5,693 1253.5,693 1269.5,693 1285.5,690 1301.5,688 1317.5,685 1333.5,681" fill="none" stroke="#ff0000" stroke-width="2" stroke-linejoin="round" shape-rendering="crispEdges" clip-path="url(#cm)"/>
<polyline points="5,762 5.5,762 21.5,771 37.5,776 53.5,764 69.5,757 85.5,758 101.5,758 117.5,756 133.5,754 149.5,754 165.5,750 181.5,750 197.5,750 213.5,749 229.5,755 245.5,756 261.5,762 277.5,762 293.5,762 309.5,762 325.5,757 341.5,757 357.5,762 373.5,762 389.5,767 405.5,764 421.5,763 437.5,766 453.5,766 469.5,766 485.5,765 501.5,770 517.5,775 533.5,782 549.5,775 565.5,775 581.5,776 597.5,776 613.5,771 629.5,774 645.5,784 661.5,783 677.5,781 693.5,774 709.5,774 725.5,771 741.5,774 757.5,774 773.5,771 789.5,771 805.5,776 821.5,767 837.5,763 853.5,763 869.5,757 885.5,757 901.5,756 917.5,761 933.5,767 949.5,768 965.5,768 981.5,771 997.5,771 1013.5,770 1029.5,771 1045.5,771 1061.5,769 1077.5,775 1093.5,779 1109.5,775 1125.5,777 1141.5,777 1157.5,777 1173.5,779 1189.5,771 1205.5,772 1221.5,771 1237.5,771 1253.5,766 1269.5,761 1285.5,757 1301.5,761 1317.5,756 1333.5,756" fill="none" stroke="#1e90ff" stroke-width="2" stroke-linejoin="round" shape-rendering="crispEdges" clip-path="url(#cr)"/>
<g fill="#e8141e" stroke="none"><path d="M1388.6 520.3 L1429.6 445.8" stroke="#e8141e" stroke-width="2.8" fill="none"/><polygon points="1421.4,442.8 1437.8,431.6 1437,452"/></g>
<text x="1618" y="49" font-size="9.8" fill="#000" stroke="#000" stroke-width="0.25" text-anchor="start" textLength="28" lengthAdjust="spacingAndGlyphs">88.180</text>
<text x="1618" y="82" font-size="9.8" fill="#000" stroke="#000" stroke-width="0.25" text-anchor="start" textLength="28" lengthAdjust="spacingAndGlyphs">87.810</text>
<text x="1618" y="115" font-size="9.8" fill="#000" stroke="#000" stroke-width="0.25" text-anchor="start" textLength="28" lengthAdjust="spacingAndGlyphs">87.430</text>
<text x="1618" y="148" font-size="9.8" fill="#000" stroke="#000" stroke-width="0.25" text-anchor="start" textLength="28" lengthAdjust="spacingAndGlyphs">87.060</text>
<text x="1618" y="181" font-size="9.8" fill="#000" stroke="#000" stroke-width="0.25" text-anchor="start" textLength="28" lengthAdjust="spacingAndGlyphs">86.680</text>
<text x="1618" y="214" font-size="9.8" fill="#000" stroke="#000" stroke-width="0.25" text-anchor="start" textLength="28" lengthAdjust="spacingAndGlyphs">86.310</text>
<text x="1618" y="247" font-size="9.8" fill="#000" stroke="#000" stroke-width="0.25" text-anchor="start" textLength="28" lengthAdjust="spacingAndGlyphs">85.930</text>
<text x="1618" y="280" font-size="9.8" fill="#000" stroke="#000" stroke-width="0.25" text-anchor="start" textLength="28" lengthAdjust="spacingAndGlyphs">85.560</text>
<text x="1618" y="313" font-size="9.8" fill="#000" stroke="#000" stroke-width="0.25" text-anchor="start" textLength="28" lengthAdjust="spacingAndGlyphs">85.180</text>
<text x="1618" y="346" font-size="9.8" fill="#000" stroke="#000" stroke-width="0.25" text-anchor="start" textLength="28" lengthAdjust="spacingAndGlyphs">84.810</text>
<text x="1618" y="478" font-size="9.8" fill="#000" stroke="#000" stroke-width="0.25" text-anchor="start" textLength="28" lengthAdjust="spacingAndGlyphs">83.310</text>
<text x="1618" y="511" font-size="9.8" fill="#000" stroke="#000" stroke-width="0.25" text-anchor="start" textLength="28" lengthAdjust="spacingAndGlyphs">82.930</text>
<text x="1618" y="544" font-size="9.8" fill="#000" stroke="#000" stroke-width="0.25" text-anchor="start" textLength="28" lengthAdjust="spacingAndGlyphs">82.560</text>
<text x="1618" y="577" font-size="9.8" fill="#000" stroke="#000" stroke-width="0.25" text-anchor="start" textLength="28" lengthAdjust="spacingAndGlyphs">82.180</text>
<text x="1618" y="610" font-size="9.8" fill="#000" stroke="#000" stroke-width="0.25" text-anchor="start" textLength="28" lengthAdjust="spacingAndGlyphs">81.810</text>
<g shape-rendering="crispEdges">
<rect x="1614" y="284" width="36" height="11" fill="#ff0000"/>
<rect x="1614" y="316" width="36" height="11" fill="#ff0000"/>
<rect x="1614" y="372" width="36" height="11" fill="#ff8c00"/>
<rect x="1614" y="403" width="36" height="11" fill="#0000ff"/>
<rect x="1614" y="437" width="36" height="11" fill="#0000ff"/>
<rect x="1614" y="353" width="36" height="11" fill="#000"/>
</g>
<text x="1618" y="293" font-size="9.8" fill="#fff" stroke="#fff" stroke-width="0.25" text-anchor="start" textLength="28" lengthAdjust="spacingAndGlyphs">85.398</text>
<text x="1618" y="325" font-size="9.8" fill="#fff" stroke="#fff" stroke-width="0.25" text-anchor="start" textLength="28" lengthAdjust="spacingAndGlyphs">85.035</text>
<text x="1618" y="381" font-size="9.8" fill="#fff" stroke="#fff" stroke-width="0.25" text-anchor="start" textLength="28" lengthAdjust="spacingAndGlyphs">84.400</text>
<text x="1618" y="412" font-size="9.8" fill="#fff" stroke="#fff" stroke-width="0.25" text-anchor="start" textLength="28" lengthAdjust="spacingAndGlyphs">84.049</text>
<text x="1618" y="446" font-size="9.8" fill="#fff" stroke="#fff" stroke-width="0.25" text-anchor="start" textLength="28" lengthAdjust="spacingAndGlyphs">83.663</text>
<text x="1618" y="362" font-size="9.8" fill="#fff" stroke="#fff" stroke-width="0.25" text-anchor="start" textLength="28" lengthAdjust="spacingAndGlyphs">84.630</text>
<text x="1616" y="622" font-size="9.8" fill="#000" stroke="#000" stroke-width="0.25" text-anchor="start" textLength="28" lengthAdjust="spacingAndGlyphs">0.7285</text>
<text x="1616" y="667" font-size="9.8" fill="#000" stroke="#000" stroke-width="0.25" text-anchor="start" textLength="17.3" lengthAdjust="spacingAndGlyphs">0.00</text>
<text x="1616" y="711" font-size="9.8" fill="#000" stroke="#000" stroke-width="0.25" text-anchor="start" textLength="30" lengthAdjust="spacingAndGlyphs">-0.7397</text>
<text x="1616" y="727" font-size="9.8" fill="#000" stroke="#000" stroke-width="0.25" text-anchor="start" textLength="14.5" lengthAdjust="spacingAndGlyphs">100</text>
<text x="1616" y="740" font-size="9.8" fill="#000" stroke="#000" stroke-width="0.25" text-anchor="start" textLength="9.5" lengthAdjust="spacingAndGlyphs">80</text>
<text x="1616" y="768" font-size="9.8" fill="#000" stroke="#000" stroke-width="0.25" text-anchor="start" textLength="9.5" lengthAdjust="spacingAndGlyphs">50</text>
<text x="1616" y="801" font-size="9.8" fill="#000" stroke="#000" stroke-width="0.25" text-anchor="start" textLength="9.5" lengthAdjust="spacingAndGlyphs">15</text>
<text x="1616" y="808" font-size="9.8" fill="#000" stroke="#000" stroke-width="0.25" text-anchor="start">0</text>
<polygon points="8,34 15,34 11.5,38" fill="#000"/>
<text x="20.3" y="39" font-size="9.8" fill="#000" stroke="#000" stroke-width="0.25" text-anchor="start" textLength="42.2" lengthAdjust="spacingAndGlyphs">UKOil-,H4</text>
<text x="68.8" y="39" font-size="9.8" fill="#000" stroke="#000" stroke-width="0.25" text-anchor="start" textLength="120.9" lengthAdjust="spacingAndGlyphs">84.693 84.763 84.550 84.630</text>
<text x="9.2" y="624" font-size="9.8" fill="#000" stroke="#000" stroke-width="0.25" text-anchor="start" textLength="130.8" lengthAdjust="spacingAndGlyphs">MACD(12,26,9) 0.0415 -0.2478</text>
<text x="9.2" y="729" font-size="9.8" fill="#000" stroke="#000" stroke-width="0.25" text-anchor="start" textLength="68" lengthAdjust="spacingAndGlyphs">RSI(14) 58.6065</text>
<text x="4.2" y="824" font-size="9.8" fill="#000" stroke="#000" stroke-width="0.25" text-anchor="start" textLength="47.3" lengthAdjust="spacingAndGlyphs">8 Aug 2023</text>
<text x="68.2" y="824" font-size="9.8" fill="#000" stroke="#000" stroke-width="0.25" text-anchor="start" textLength="50.4" lengthAdjust="spacingAndGlyphs">8 Aug 16:00</text>
<text x="132.2" y="824" font-size="9.8" fill="#000" stroke="#000" stroke-width="0.25" text-anchor="start" textLength="50.4" lengthAdjust="spacingAndGlyphs">9 Aug 08:00</text>
<text x="196.2" y="824" font-size="9.8" fill="#000" stroke="#000" stroke-width="0.25" text-anchor="start" textLength="54.8" lengthAdjust="spacingAndGlyphs">10 Aug 00:00</text>
<text x="260.2" y="824" font-size="9.8" fill="#000" stroke="#000" stroke-width="0.25" text-anchor="start" textLength="54.8" lengthAdjust="spacingAndGlyphs">10 Aug 16:00</text>
<text x="324.2" y="824" font-size="9.8" fill="#000" stroke="#000" stroke-width="0.25" text-anchor="start" textLength="54.8" lengthAdjust="spacingAndGlyphs">11 Aug 08:00</text>
<text x="388.2" y="824" font-size="9.8" fill="#000" stroke="#000" stroke-width="0.25" text-anchor="start" textLength="54.8" lengthAdjust="spacingAndGlyphs">14 Aug 00:00</text>
<text x="452.2" y="824" font-size="9.8" fill="#000" stroke="#000" stroke-width="0.25" text-anchor="start" textLength="54.8" lengthAdjust="spacingAndGlyphs">14 Aug 16:00</text>
<text x="516.2" y="824" font-size="9.8" fill="#000" stroke="#000" stroke-width="0.25" text-anchor="start" textLength="54.8" lengthAdjust="spacingAndGlyphs">15 Aug 08:00</text>
<text x="580.2" y="824" font-size="9.8" fill="#000" stroke="#000" stroke-width="0.25" text-anchor="start" textLength="54.8" lengthAdjust="spacingAndGlyphs">16 Aug 00:00</text>
<text x="644.2" y="824" font-size="9.8" fill="#000" stroke="#000" stroke-width="0.25" text-anchor="start" textLength="54.8" lengthAdjust="spacingAndGlyphs">16 Aug 16:00</text>
<text x="708.2" y="824" font-size="9.8" fill="#000" stroke="#000" stroke-width="0.25" text-anchor="start" textLength="54.8" lengthAdjust="spacingAndGlyphs">17 Aug 08:00</text>
<text x="772.2" y="824" font-size="9.8" fill="#000" stroke="#000" stroke-width="0.25" text-anchor="start" textLength="54.8" lengthAdjust="spacingAndGlyphs">18 Aug 00:00</text>
<text x="836.2" y="824" font-size="9.8" fill="#000" stroke="#000" stroke-width="0.25" text-anchor="start" textLength="54.8" lengthAdjust="spacingAndGlyphs">18 Aug 16:00</text>
<text x="900.2" y="824" font-size="9.8" fill="#000" stroke="#000" stroke-width="0.25" text-anchor="start" textLength="54.8" lengthAdjust="spacingAndGlyphs">21 Aug 08:00</text>
<text x="964.2" y="824" font-size="9.8" fill="#000" stroke="#000" stroke-width="0.25" text-anchor="start" textLength="54.8" lengthAdjust="spacingAndGlyphs">22 Aug 00:00</text>
<text x="1028.2" y="824" font-size="9.8" fill="#000" stroke="#000" stroke-width="0.25" text-anchor="start" textLength="54.8" lengthAdjust="spacingAndGlyphs">22 Aug 16:00</text>
<text x="1092.2" y="824" font-size="9.8" fill="#000" stroke="#000" stroke-width="0.25" text-anchor="start" textLength="54.8" lengthAdjust="spacingAndGlyphs">23 Aug 08:00</text>
<text x="1156.2" y="824" font-size="9.8" fill="#000" stroke="#000" stroke-width="0.25" text-anchor="start" textLength="54.8" lengthAdjust="spacingAndGlyphs">24 Aug 00:00</text>
<text x="1220.2" y="824" font-size="9.8" fill="#000" stroke="#000" stroke-width="0.25" text-anchor="start" textLength="54.8" lengthAdjust="spacingAndGlyphs">24 Aug 16:00</text>
<text x="1284.2" y="824" font-size="9.8" fill="#000" stroke="#000" stroke-width="0.25" text-anchor="start" textLength="54.8" lengthAdjust="spacingAndGlyphs">25 Aug 08:00</text>
<!--ICONS-->
</svg>
</body></html>
